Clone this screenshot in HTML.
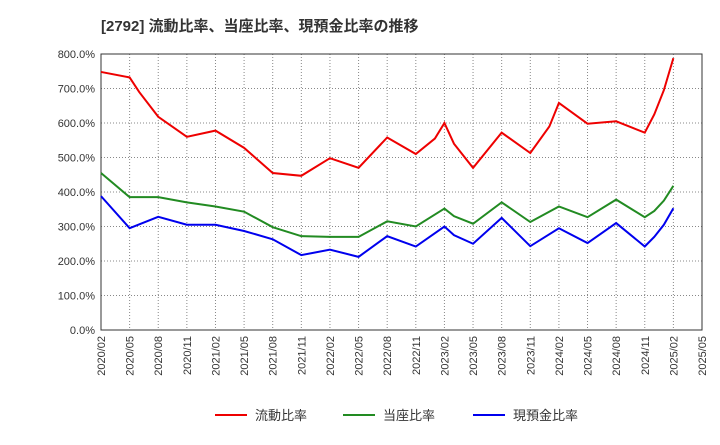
<!DOCTYPE html>
<html><head><meta charset="utf-8"><style>
body{margin:0;background:#fff;font-family:"Liberation Sans","Noto Sans CJK JP",sans-serif;}
</style></head><body>
<svg width="720" height="440" xmlns="http://www.w3.org/2000/svg">
<text x="101" y="31" font-size="15" font-weight="bold" fill="#333">[2792]  流動比率、当座比率、現預金比率の推移</text>
<g id="grid"></g><g id="axes"></g><g id="series"></g><g id="legend"></g>
</svg>
<script>
const xTickLabels=["2020/02","2020/05","2020/08","2020/11","2021/02","2021/05","2021/08","2021/11","2022/02","2022/05","2022/08","2022/11","2023/02","2023/05","2023/08","2023/11","2024/02","2024/05","2024/08","2024/11","2025/02","2025/05"];
const yTicks=[0,100,200,300,400,500,600,700,800];
const months=[0,3,4,6,9,12,15,18,21,24,27,30,33,35,36,37,39,42,45,47,48,51,54,57,58,59,60];
const currentRatio=[748,732,690,618,560,578,528,455,447,498,470,558,510,555,600,540,470,572,513,590,658,598,605,572,625,695,788];
const quickMonths=[0,3,6,9,12,15,18,21,24,27,30,33,36,37,39,42,45,48,51,54,57,58,59,60];
const quickRatio=[455,385,385,370,358,343,298,272,270,270,315,300,352,330,308,370,313,358,327,378,327,345,375,418];
const cashRatio=[388,295,328,305,305,287,263,217,233,212,272,242,300,275,250,325,243,295,252,310,242,270,305,353];
const L=101,R=702,T=54,B=330,NS="http://www.w3.org/2000/svg";
const x=m=>L+m*(R-L)/63, y=v=>B-v*(B-T)/800;
function mk(t,a,p){const e=document.createElementNS(NS,t);for(const k in a)e.setAttribute(k,a[k]);document.getElementById(p).appendChild(e);return e;}
const fr=mk('rect',{x:L,y:T,width:R-L,height:B-T,fill:'none',stroke:'#333'},'axes');


yTicks.forEach(v=>{
 if(v>0&&v<800){const g=mk('line',{x1:L,x2:R,y1:y(v),y2:y(v),stroke:'#888','stroke-dasharray':'1,2'},'grid');
 
 }
 const t=mk('text',{x:L-6,y:y(v)+4,'text-anchor':'end','font-size':11,fill:'#333'},'axes');t.textContent=v.toFixed(1)+'%';
 
 
});
xTickLabels.forEach((s,i)=>{
 const xx=x(i*3);
 if(i>0&&i<21){const g=mk('line',{x1:xx,x2:xx,y1:T,y2:B,stroke:'#888','stroke-dasharray':'1,2'},'grid');
 
 }
 const t=mk('text',{x:xx+4,y:B+6,'text-anchor':'end','font-size':11,fill:'#333',transform:`rotate(-90 ${xx+4} ${B+6})`},'axes');t.textContent=s;
 
 
});
function line(ms,vs,c,n){const p=mk('polyline',{points:ms.map((m,i)=>x(m)+','+y(vs[i])).join(' '),fill:'none',stroke:c,'stroke-width':2},'series');
 
 }
line(months,currentRatio,'#e00','current-ratio-line');
line(quickMonths,quickRatio,'#228b22','quick-ratio-line');
line(quickMonths,cashRatio,'#00e','cash-ratio-line');
[['流動比率','#e00',215],['当座比率','#228b22',343],['現預金比率','#00e',473]].forEach(([s,c,lx])=>{
 const l=mk('line',{x1:lx,x2:lx+32,y1:415,y2:415,stroke:c,'stroke-width':2},'legend');
 
 
 const t=mk('text',{x:lx+40,y:420,'font-size':13,fill:'#333'},'legend');t.textContent=s;
 
 
});
</script>
</body></html>
